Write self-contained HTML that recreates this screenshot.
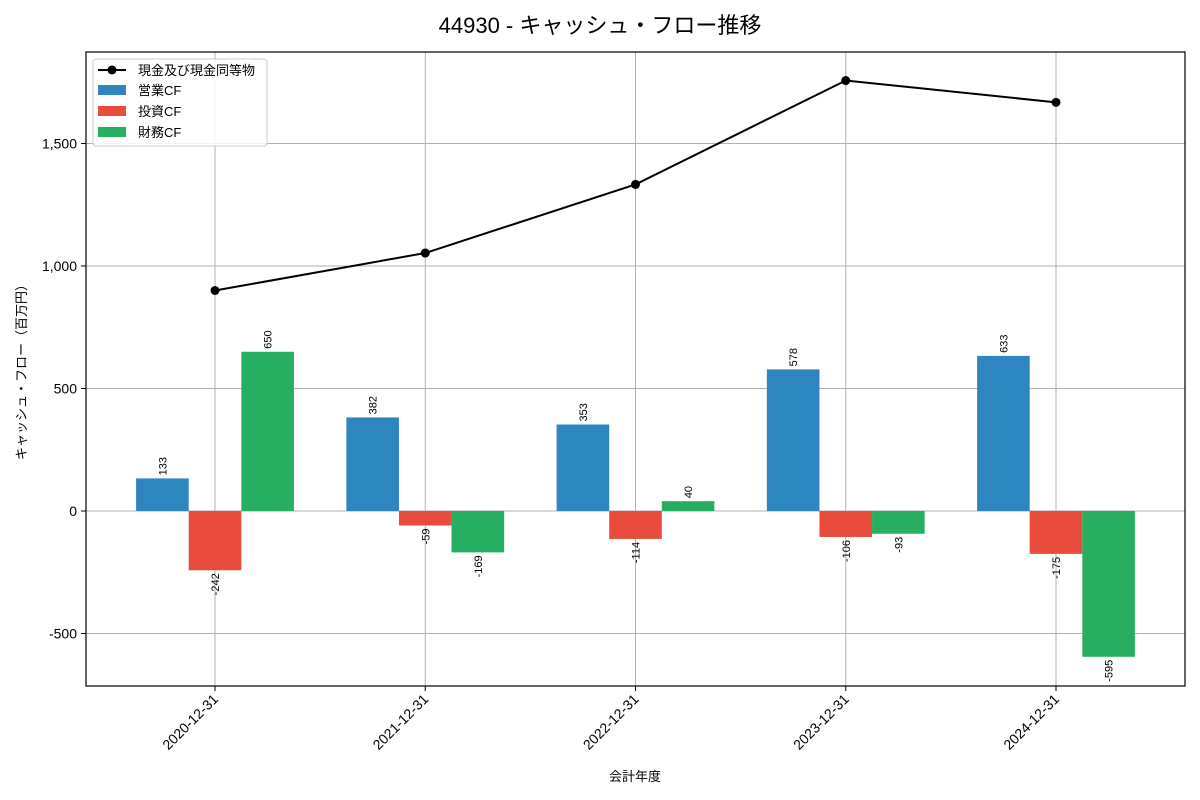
<!DOCTYPE html>
<html><head><meta charset="utf-8"><style>
body{margin:0;background:#fff;}
svg{display:block;font-family:"Liberation Sans","Noto Sans CJK JP",sans-serif;}
</style></head><body>
<svg id="chart" width="1200" height="800" xmlns="http://www.w3.org/2000/svg">
<text x="600" y="33" text-anchor="middle" font-size="22" fill="#000">44930 - キャッシュ・フロー推移</text>
<g id="grid"></g>
<g id="bars"></g>
<g id="line"></g>
<g id="axes"></g>
<rect x="86" y="52" width="1099" height="634" fill="none" stroke="#000" stroke-width="1.2"/>
<text transform="translate(26,369) rotate(-90)" text-anchor="middle" font-size="13">キャッシュ・フロー（百万円）</text>
<text x="635" y="781" text-anchor="middle" font-size="13">会計年度</text>
<g>
<rect x="93" y="59" width="174" height="87" rx="3" fill="#fff" fill-opacity="0.85" stroke="#ccc"/>
<line x1="98" y1="70" x2="126" y2="70" stroke="#000" stroke-width="2"/>
<circle cx="112" cy="70" r="4.5" fill="#000"/>
<text x="138" y="75" font-size="13">現金及び現金同等物</text>
<rect x="98" y="85" width="28" height="10" fill="#2e86c1"/>
<text x="138" y="95" font-size="13">営業CF</text>
<rect x="98" y="106" width="28" height="10" fill="#e74c3c"/>
<text x="138" y="116" font-size="13">投資CF</text>
<rect x="98" y="127" width="28" height="10" fill="#27ae60"/>
<text x="138" y="137" font-size="13">財務CF</text>
</g>
</svg>
<script>
const categories=["2020-12-31","2021-12-31","2022-12-31","2023-12-31","2024-12-31"];
const operatingCF=[133,382,353,578,633];
const investingCF=[-242,-59,-114,-106,-175];
const financingCF=[650,-169,40,-93,-595];
const cashBalance=[900,1053,1333,1757,1668];
const yTicks=[-500,0,500,1000,1500];
const yTickLabels=["-500","0","500","1,000","1,500"];
const NS="http://www.w3.org/2000/svg";
const yS=v=>511-v*0.245;
const xS=i=>215+i*210.25;
const bw=52.6;
function mk(t,a,p){const e=document.createElementNS(NS,t);for(const k in a)e.setAttribute(k,a[k]);p.appendChild(e);return e;}
const grid=document.getElementById('grid'),axes=document.getElementById('axes'),bars=document.getElementById('bars'),line=document.getElementById('line');
yTicks.forEach((v,i)=>{
 const g=mk('line',{x1:86,x2:1185,y1:yS(v),y2:yS(v),stroke:'#b0b0b0','stroke-width':1},grid);
 
 
 const tk=mk('line',{x1:81,x2:86,y1:yS(v),y2:yS(v),stroke:'#000'},axes);
 
 
 const t=mk('text',{x:77,y:yS(v)+5,'text-anchor':'end','font-size':14},axes);
 t.textContent=yTickLabels[i];
 
 
});
categories.forEach((c,i)=>{
 const x=xS(i);
 const g=mk('line',{x1:x,x2:x,y1:52,y2:686,stroke:'#b0b0b0','stroke-width':1},grid);
 
 
 const tk=mk('line',{x1:x,x2:x,y1:686,y2:691,stroke:'#000'},axes);
 
 
 const t=mk('text',{transform:`translate(${x+4},${700}) rotate(-45)`,'text-anchor':'end','font-size':14},axes);
 t.textContent=c;
 
 
});
const series=[[operatingCF,'#2e86c1',-1,'bar-operating'],[investingCF,'#e74c3c',0,'bar-investing'],[financingCF,'#27ae60',1,'bar-financing']];
series.forEach(([vals,col,off,nm])=>{
 vals.forEach((v,i)=>{
  const cx=xS(i)+off*bw;
  const y0=yS(0),y1=yS(v);
  const r=mk('rect',{x:cx-bw/2,y:Math.min(y0,y1),width:bw,height:Math.abs(y1-y0),fill:col},bars);
  
  
  const ly=v>=0?y1-3:y1+3;
  const t=mk('text',{transform:`translate(${cx+4},${ly}) rotate(-90)`,'text-anchor':v>=0?'start':'end','font-size':11},bars);
  t.textContent=String(v);
  
  
 });
});
const pts=cashBalance.map((v,i)=>xS(i)+','+yS(v)).join(' ');
const pl=mk('polyline',{points:pts,fill:'none',stroke:'#000','stroke-width':2},line);


cashBalance.forEach((v,i)=>{
 const c=mk('circle',{cx:xS(i),cy:yS(v),r:4.5,fill:'#000'},line);
 
 
});
</script>
</body></html>
